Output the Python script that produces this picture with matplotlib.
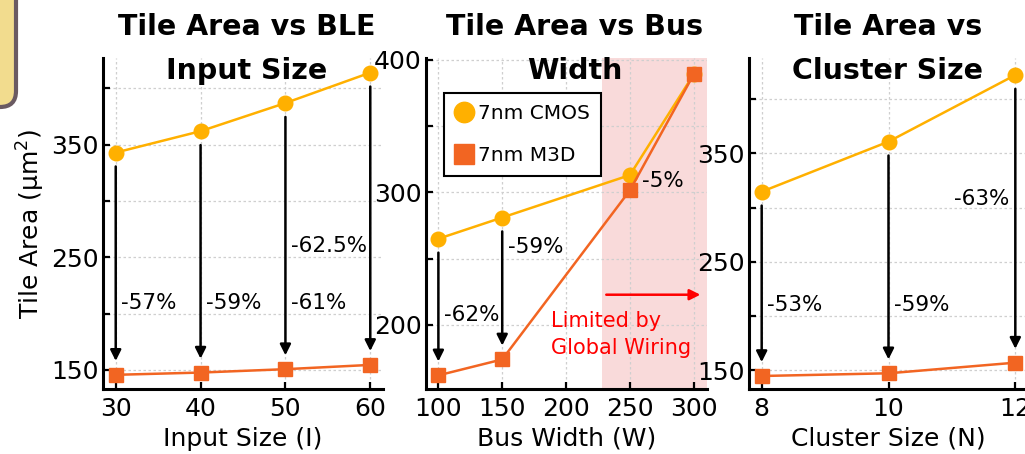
import matplotlib
matplotlib.use("Agg")
import matplotlib.pyplot as plt
from matplotlib.patches import FancyBboxPatch
from matplotlib.transforms import IdentityTransform
from matplotlib.ticker import FixedLocator

plt.rcParams['font.family'] = ['DejaVu Sans']

# ---- data ----
input_size = [30, 40, 50, 60]
input_cmos = [343, 362, 387, 414]
input_m3d = [145.6, 147.6, 150.6, 154.4]
input_labels = ['-57%', '-59%', '-61%', '-62.5%']

bus_width = [100, 150, 250, 300]
bus_cmos = [265, 281, 313, 389]
bus_m3d = [162, 174, 301.5, 389]
bus_labels = ['-62%', '-59%', '-5%']

cluster_size = [8, 10, 12]
cluster_cmos = [314.6, 360.8, 422.3]
cluster_m3d = [144.5, 147, 156.8]
cluster_labels = ['-53%', '-59%', '-63%']

CMOS_COLOR = '#FFB000'
M3D_COLOR = '#F26522'

TICK_FS = 18
LABEL_FS = 18
NOTE_FS = 15.5

W, H = 1025, 454
fig = plt.figure(figsize=(W / 100, H / 100), dpi=100)


def make_axes(left, right, top=58, bottom=389):
    return fig.add_axes([left / W, 1 - bottom / H, (right - left) / W, (bottom - top) / H])


def style(ax, xticks, xlim, ylim, ymajor, yminor):
    ax.set_xlim(*xlim)
    ax.set_ylim(*ylim)
    ax.set_xticks(xticks)
    ax.yaxis.set_major_locator(FixedLocator(ymajor))
    ax.yaxis.set_minor_locator(FixedLocator(yminor))
    for s in ('top', 'right'):
        ax.spines[s].set_visible(False)
    for s in ('left', 'bottom'):
        ax.spines[s].set_linewidth(2.2)
    ax.tick_params(axis='both', which='both', direction='in', length=5, width=1.6,
                   labelsize=TICK_FS)
    ax.tick_params(axis='y', pad=3)
    ax.tick_params(axis='x', pad=6)
    ax.grid(True, which='both', axis='y', linestyle=(0, (2, 2)), color='#cfcfcf', lw=0.9)
    ax.grid(True, which='major', axis='x', linestyle=(0, (2, 2)), color='#cfcfcf', lw=0.9)
    ax.set_axisbelow(True)


def plot_series(ax, x, cmos, m3d):
    ax.plot(x, cmos, '-o', color=CMOS_COLOR, lw=1.8, ms=10.5, zorder=3, label='7nm CMOS')
    ax.plot(x, m3d, '-s', color=M3D_COLOR, lw=1.8, ms=10.5, zorder=4, label='7nm M3D')


def drop_arrow(ax, x, top, bottom):
    ax.annotate('', xy=(x, bottom), xytext=(x, top),
                arrowprops=dict(arrowstyle='-|>', color='black', lw=1.8,
                                mutation_scale=16, shrinkA=10, shrinkB=10),
                zorder=2)


def pct(ax, x, y, text, side, off=4):
    off = off if side == 'left' else -off
    ax.annotate(text, xy=(x, y), xytext=(off, 0), textcoords='offset points',
                ha=side, va='center', fontsize=NOTE_FS)


# ---- panel 1: BLE input size ----
ax1 = make_axes(103, 383)
style(ax1, input_size, (28.5, 61.5), (133, 427), [150, 250, 350], [200, 300, 400])
plot_series(ax1, input_size, input_cmos, input_m3d)
for x, c, m in zip(input_size, input_cmos, input_m3d):
    drop_arrow(ax1, x, c, m)
pct(ax1, 30, 209.6, input_labels[0], 'left')
pct(ax1, 40, 209.6, input_labels[1], 'left')
pct(ax1, 50, 209.6, input_labels[2], 'left')
pct(ax1, 60, 259.6, input_labels[3], 'right', off=2.5)
ax1.set_xlabel('Input Size (I)', fontsize=LABEL_FS, labelpad=4)
ax1.set_ylabel('Tile Area (μm$^2$)', fontsize=LABEL_FS, labelpad=3)

# ---- panel 2: bus width ----
ax2 = make_axes(426, 707)
style(ax2, [100, 150, 200, 250, 300], (90.3, 310.4), (151.7, 401.3), [200, 300, 400], [250, 350])
ax2.axvspan(228.2, 310.4, color='#F9DADA', zorder=0, lw=0)
plot_series(ax2, bus_width, bus_cmos, bus_m3d)
for x, c, m in zip(bus_width[:2], bus_cmos[:2], bus_m3d[:2]):
    drop_arrow(ax2, x, c, m)
pct(ax2, 100, 207.7, bus_labels[0], 'left')
pct(ax2, 150, 259, bus_labels[1], 'left')
pct(ax2, 250, 308.3, bus_labels[2], 'left', off=9)
ax2.annotate('', xy=(305.2, 222.8), xytext=(231.5, 222.8),
             arrowprops=dict(arrowstyle='-|>', color='red', lw=1.8, mutation_scale=16,
                             shrinkA=0, shrinkB=0))
ax2.text(188.3, 193, 'Limited by\nGlobal Wiring', color='red', fontsize=15,
         ha='left', va='center', linespacing=1.45)
ax2.set_xlabel('Bus Width (W)', fontsize=LABEL_FS, labelpad=4)
leg = ax2.legend(loc='upper left', bbox_to_anchor=(0.064, 0.895), fontsize=14.5,
                 frameon=True, fancybox=False, edgecolor='black', framealpha=1,
                 handlelength=0.9, handletextpad=0.25, labelspacing=1.15,
                 borderpad=0.55, borderaxespad=0, markerscale=1.4)
leg.get_frame().set_linewidth(1.5)
for h in leg.legend_handles:
    h.set_linestyle('none')

# ---- panel 3: cluster size ----
ax3 = make_axes(749, 1028)
style(ax3, cluster_size, (7.8, 12.2), (132.5, 438), [150, 250, 350], [200, 300, 400])
plot_series(ax3, cluster_size, cluster_cmos, cluster_m3d)
for x, c, m in zip(cluster_size, cluster_cmos, cluster_m3d):
    drop_arrow(ax3, x, c, m)
pct(ax3, 8, 210, cluster_labels[0], 'left')
pct(ax3, 10, 210, cluster_labels[1], 'left')
pct(ax3, 12, 307.5, cluster_labels[2], 'right')
ax3.set_xlabel('Cluster Size (N)', fontsize=LABEL_FS, labelpad=4)

# ---- titles ----
for cx, title in [(247, 'Tile Area vs BLE\nInput Size'),
                  (575, 'Tile Area vs Bus\nWidth'),
                  (888, 'Tile Area vs\nCluster Size')]:
    fig.text(cx / W, 1 - 49 / H, title, ha='center', va='center', fontsize=20.5,
             fontweight='bold', linespacing=1.75)

# ---- corner box ----
box = FancyBboxPatch((-100, H - 107), 116, 250,
                     boxstyle='round,pad=0,rounding_size=16',
                     transform=IdentityTransform(), facecolor='#F2DC8E',
                     edgecolor='#6A5A62', lw=3)
fig.add_artist(box)

fig.savefig('out.png', dpi=100)
